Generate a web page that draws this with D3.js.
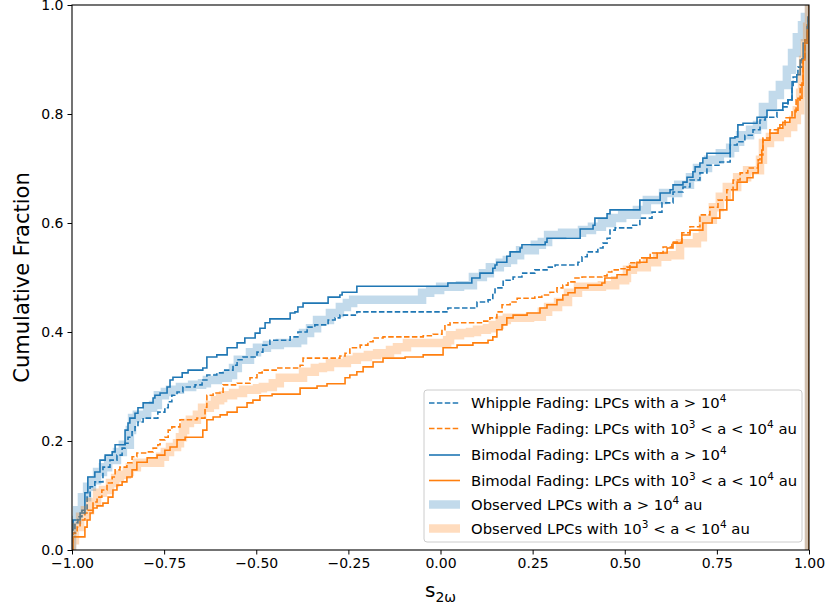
<!DOCTYPE html>
<html><head><meta charset="utf-8">
<script src="https://cdn.jsdelivr.net/npm/d3@7"></script>
<style>body{margin:0;background:#fff}svg{font-family:"DejaVu Sans",sans-serif}</style>
</head><body><svg id="c" width="827" height="607"></svg>
<script>
const xTicks=[-1,-0.75,-0.5,-0.25,0,0.25,0.5,0.75,1];
const yTicks=[0,0.2,0.4,0.6,0.8,1.0];
const xLabel="s";
const xLabelSub="2ω";
const yLabel="Cumulative Fraction";

// Whipple fading, a > 1e4 (dashed blue)
const whippleHigh=[[-1,0],[-1,0.031],[-0.992,0.050],[-0.984,0.061],[-0.973,0.073],[-0.959,0.097],[-0.951,0.116],[-0.938,0.125],[-0.916,0.152],[-0.897,0.165],[-0.878,0.174],[-0.864,0.187],[-0.856,0.196],[-0.848,0.207],[-0.837,0.217],[-0.829,0.226],[-0.821,0.235],[-0.807,0.242],[-0.767,0.253],[-0.748,0.261],[-0.739,0.272],[-0.729,0.284],[-0.715,0.290],[-0.699,0.299],[-0.666,0.303],[-0.647,0.312],[-0.634,0.321],[-0.607,0.325],[-0.590,0.330],[-0.563,0.339],[-0.552,0.349],[-0.536,0.354],[-0.498,0.363],[-0.482,0.376],[-0.463,0.385],[-0.408,0.391],[-0.387,0.400],[-0.362,0.409],[-0.341,0.413],[-0.305,0.422],[-0.286,0.426],[-0.273,0.431],[-0.227,0.437],[0.020,0.444],[0.099,0.455],[0.129,0.459],[0.142,0.472],[0.148,0.481],[0.170,0.495],[0.197,0.501],[0.221,0.508],[0.256,0.514],[0.289,0.519],[0.311,0.523],[0.373,0.528],[0.384,0.538],[0.398,0.547],[0.427,0.554],[0.441,0.563],[0.452,0.572],[0.460,0.587],[0.474,0.591],[0.522,0.596],[0.541,0.609],[0.574,0.620],[0.601,0.637],[0.631,0.657],[0.658,0.666],[0.677,0.679],[0.704,0.692],[0.723,0.706],[0.758,0.712],[0.786,0.743],[0.805,0.749],[0.826,0.761],[0.848,0.771],[0.867,0.789],[0.881,0.794],[0.913,0.807],[0.929,0.813],[0.943,0.826],[0.954,0.850],[0.957,0.868],[0.970,0.886],[0.981,0.905],[0.989,0.936],[0.997,0.972],[1,1],[1,0]];

// Whipple fading, 1e3 < a < 1e4 (dashed orange)
const whippleLow=[[-1,0],[-0.997,0.031],[-0.986,0.042],[-0.978,0.055],[-0.965,0.068],[-0.957,0.073],[-0.943,0.088],[-0.932,0.097],[-0.919,0.110],[-0.905,0.123],[-0.891,0.134],[-0.883,0.147],[-0.870,0.152],[-0.851,0.160],[-0.837,0.171],[-0.824,0.178],[-0.796,0.180],[-0.780,0.187],[-0.767,0.193],[-0.761,0.202],[-0.748,0.207],[-0.739,0.220],[-0.729,0.226],[-0.707,0.239],[-0.661,0.242],[-0.639,0.262],[-0.634,0.284],[-0.617,0.288],[-0.590,0.303],[-0.552,0.306],[-0.517,0.316],[-0.498,0.325],[-0.484,0.330],[-0.444,0.334],[-0.381,0.339],[-0.373,0.352],[-0.273,0.356],[-0.259,0.361],[-0.246,0.371],[-0.218,0.376],[-0.197,0.382],[-0.183,0.389],[-0.156,0.391],[-0.047,0.393],[-0.020,0.396],[0.004,0.404],[0.012,0.413],[0.026,0.417],[0.115,0.420],[0.134,0.426],[0.153,0.437],[0.167,0.450],[0.189,0.455],[0.208,0.462],[0.256,0.464],[0.275,0.468],[0.297,0.473],[0.316,0.481],[0.332,0.486],[0.346,0.492],[0.365,0.499],[0.384,0.501],[0.438,0.503],[0.452,0.510],[0.465,0.514],[0.487,0.516],[0.506,0.519],[0.514,0.527],[0.541,0.536],[0.569,0.545],[0.604,0.556],[0.628,0.565],[0.655,0.582],[0.677,0.593],[0.704,0.615],[0.731,0.629],[0.753,0.642],[0.777,0.661],[0.794,0.679],[0.813,0.692],[0.834,0.701],[0.862,0.716],[0.867,0.725],[0.875,0.756],[0.894,0.771],[0.921,0.780],[0.935,0.793],[0.954,0.804],[0.965,0.826],[0.976,0.853],[0.984,0.899],[0.989,0.936],[0.995,0.963],[1,1],[1,0]];

// Bimodal fading, a > 1e4 (solid blue)
const bimodalHigh=[[-1,0],[-1,0.037],[-0.997,0.055],[-0.978,0.068],[-0.965,0.105],[-0.957,0.134],[-0.938,0.143],[-0.924,0.165],[-0.910,0.174],[-0.891,0.180],[-0.883,0.193],[-0.856,0.220],[-0.848,0.233],[-0.843,0.242],[-0.829,0.251],[-0.821,0.261],[-0.807,0.270],[-0.780,0.279],[-0.775,0.284],[-0.761,0.288],[-0.742,0.299],[-0.734,0.312],[-0.726,0.317],[-0.701,0.325],[-0.685,0.330],[-0.645,0.334],[-0.634,0.354],[-0.607,0.358],[-0.579,0.371],[-0.552,0.380],[-0.531,0.389],[-0.503,0.398],[-0.490,0.407],[-0.476,0.417],[-0.463,0.424],[-0.408,0.435],[-0.395,0.437],[-0.387,0.446],[-0.373,0.453],[-0.305,0.464],[-0.273,0.468],[-0.267,0.473],[-0.227,0.484],[0.020,0.490],[0.085,0.499],[0.107,0.508],[0.142,0.517],[0.148,0.523],[0.153,0.528],[0.180,0.539],[0.189,0.547],[0.216,0.554],[0.221,0.560],[0.284,0.565],[0.289,0.572],[0.379,0.589],[0.414,0.596],[0.419,0.609],[0.452,0.617],[0.460,0.624],[0.541,0.642],[0.596,0.655],[0.623,0.661],[0.631,0.670],[0.658,0.675],[0.669,0.684],[0.685,0.694],[0.691,0.703],[0.704,0.710],[0.712,0.719],[0.723,0.728],[0.786,0.756],[0.799,0.758],[0.807,0.780],[0.821,0.783],[0.859,0.794],[0.886,0.807],[0.929,0.820],[0.943,0.826],[0.954,0.859],[0.967,0.872],[0.976,0.899],[0.984,0.930],[0.995,0.960],[0.997,0.978],[1,1],[1,0]];

// Bimodal fading, 1e3 < a < 1e4 (solid orange)
const bimodalLow=[[-1,0],[-0.997,0.024],[-0.965,0.042],[-0.959,0.055],[-0.951,0.068],[-0.943,0.077],[-0.932,0.081],[-0.916,0.086],[-0.902,0.097],[-0.889,0.110],[-0.878,0.119],[-0.864,0.125],[-0.851,0.134],[-0.837,0.147],[-0.824,0.161],[-0.796,0.169],[-0.769,0.174],[-0.748,0.183],[-0.734,0.189],[-0.715,0.202],[-0.693,0.207],[-0.645,0.220],[-0.634,0.239],[-0.617,0.244],[-0.598,0.248],[-0.579,0.253],[-0.552,0.262],[-0.525,0.270],[-0.509,0.275],[-0.490,0.283],[-0.457,0.286],[-0.381,0.297],[-0.335,0.301],[-0.308,0.305],[-0.259,0.316],[-0.246,0.321],[-0.227,0.327],[-0.210,0.336],[-0.183,0.345],[-0.156,0.352],[-0.096,0.354],[-0.047,0.358],[0.007,0.371],[0.045,0.376],[0.088,0.380],[0.129,0.385],[0.142,0.391],[0.153,0.404],[0.167,0.413],[0.180,0.426],[0.197,0.431],[0.235,0.435],[0.270,0.444],[0.289,0.450],[0.316,0.459],[0.332,0.468],[0.346,0.472],[0.365,0.481],[0.400,0.486],[0.438,0.490],[0.446,0.499],[0.479,0.505],[0.506,0.514],[0.514,0.519],[0.533,0.528],[0.560,0.536],[0.588,0.545],[0.615,0.554],[0.631,0.563],[0.655,0.578],[0.677,0.587],[0.712,0.600],[0.737,0.609],[0.758,0.624],[0.777,0.642],[0.794,0.661],[0.805,0.675],[0.832,0.683],[0.848,0.692],[0.862,0.710],[0.872,0.734],[0.875,0.752],[0.894,0.765],[0.916,0.774],[0.929,0.785],[0.948,0.793],[0.962,0.807],[0.970,0.829],[0.981,0.857],[0.984,0.899],[0.989,0.930],[0.995,0.954],[1,1],[1,0]];

// Observed LPCs, a > 1e4 (thick translucent blue)
const observedHigh=[[-1,0],[-1,0.055],[-0.986,0.073],[-0.973,0.097],[-0.959,0.116],[-0.946,0.128],[-0.932,0.143],[-0.916,0.152],[-0.902,0.165],[-0.878,0.180],[-0.862,0.193],[-0.843,0.220],[-0.837,0.242],[-0.824,0.248],[-0.796,0.261],[-0.780,0.266],[-0.767,0.284],[-0.748,0.290],[-0.734,0.294],[-0.707,0.299],[-0.674,0.303],[-0.647,0.306],[-0.634,0.312],[-0.604,0.316],[-0.577,0.321],[-0.563,0.334],[-0.550,0.349],[-0.517,0.363],[-0.498,0.371],[-0.471,0.376],[-0.436,0.380],[-0.389,0.385],[-0.373,0.398],[-0.354,0.407],[-0.335,0.422],[-0.300,0.435],[-0.273,0.446],[-0.254,0.453],[-0.237,0.459],[-0.050,0.472],[-0.028,0.477],[-0.001,0.483],[0.053,0.486],[0.088,0.501],[0.115,0.508],[0.134,0.519],[0.161,0.527],[0.180,0.532],[0.197,0.541],[0.216,0.550],[0.256,0.560],[0.275,0.565],[0.292,0.578],[0.330,0.582],[0.384,0.587],[0.411,0.593],[0.438,0.600],[0.465,0.609],[0.493,0.615],[0.533,0.624],[0.560,0.642],[0.604,0.655],[0.645,0.670],[0.677,0.684],[0.696,0.701],[0.726,0.716],[0.758,0.728],[0.786,0.738],[0.799,0.749],[0.813,0.761],[0.840,0.771],[0.859,0.780],[0.875,0.813],[0.902,0.835],[0.921,0.853],[0.940,0.881],[0.954,0.912],[0.967,0.941],[0.981,0.963],[0.989,0.978],[1,1],[1,0]];

// Observed LPCs, 1e3 < a < 1e4 (thick translucent orange)
const observedLow=[[-1,0],[-1,0.018],[-0.992,0.042],[-0.978,0.061],[-0.965,0.073],[-0.951,0.088],[-0.932,0.105],[-0.916,0.110],[-0.897,0.123],[-0.883,0.132],[-0.870,0.138],[-0.851,0.143],[-0.843,0.152],[-0.824,0.160],[-0.761,0.171],[-0.748,0.180],[-0.734,0.189],[-0.715,0.196],[-0.707,0.207],[-0.699,0.220],[-0.693,0.233],[-0.680,0.239],[-0.661,0.248],[-0.647,0.261],[-0.626,0.266],[-0.612,0.275],[-0.598,0.279],[-0.590,0.284],[-0.563,0.288],[-0.536,0.294],[-0.498,0.297],[-0.482,0.299],[-0.455,0.306],[-0.436,0.316],[-0.373,0.327],[-0.341,0.334],[-0.319,0.336],[-0.300,0.343],[-0.254,0.349],[-0.227,0.354],[-0.197,0.358],[-0.172,0.361],[-0.137,0.367],[-0.118,0.372],[-0.091,0.380],[0.018,0.385],[0.026,0.394],[0.053,0.398],[0.080,0.400],[0.099,0.404],[0.126,0.407],[0.142,0.413],[0.161,0.422],[0.180,0.426],[0.243,0.428],[0.275,0.437],[0.292,0.446],[0.319,0.455],[0.346,0.472],[0.373,0.483],[0.438,0.486],[0.474,0.495],[0.501,0.499],[0.506,0.514],[0.522,0.519],[0.560,0.528],[0.588,0.538],[0.615,0.541],[0.650,0.563],[0.696,0.574],[0.712,0.606],[0.739,0.629],[0.758,0.648],[0.777,0.666],[0.805,0.684],[0.832,0.697],[0.867,0.716],[0.875,0.747],[0.894,0.758],[0.921,0.765],[0.940,0.776],[0.957,0.789],[0.967,0.807],[0.976,0.839],[0.981,0.868],[0.984,0.899],[0.989,0.930],[0.995,0.960],[1,1],[1,0]];

const seriesLabels=[
 "Whipple Fading: LPCs with a > 10^{4}",
 "Whipple Fading: LPCs with 10^{3} < a < 10^{4} au",
 "Bimodal Fading: LPCs with a > 10^{4}",
 "Bimodal Fading: LPCs with 10^{3} < a < 10^{4} au",
 "Observed LPCs with a > 10^{4} au",
 "Observed LPCs with 10^{3} < a < 10^{4} au"
];
const seriesData=[whippleHigh,whippleLow,bimodalHigh,bimodalLow,observedHigh,observedLow];
const seriesColors=["#1f77b4","#ff7f0e","#1f77b4","#ff7f0e","#1f77b4","#ff7f0e"];
const seriesKind=["dashed","dashed","solid","solid","band","band"];

const W=827,H=607,m={l:72,r:18,t:5,b:57};
const svg=d3.select("#c");
const x=d3.scaleLinear().domain([-1,1]).range([m.l,W-m.r]);
const y=d3.scaleLinear().domain([0,1]).range([H-m.b,m.t]);

svg.append("defs").append("clipPath").attr("id","clip").append("rect")
  .attr("x",m.l).attr("y",m.t).attr("width",W-m.r-m.l).attr("height",H-m.b-m.t);

const line=d3.line().x(d=>x(d[0])).y(d=>y(d[1])).curve(d3.curveStepAfter);
const plot=svg.append("g").attr("clip-path","url(#clip)");

function styleFor(i,sel){
  const k=seriesKind[i];
  sel.attr("fill","none").attr("stroke",seriesColors[i]);
  if(k==="band") sel.attr("stroke-width",8.5).attr("stroke-opacity",0.27).attr("stroke-linejoin","miter");
  else sel.attr("stroke-width",1.6);
  if(k==="dashed") sel.attr("stroke-dasharray","5.5,2.4");
  return sel;
}
seriesData.forEach((d,i)=>{
  styleFor(i,plot.append("path").attr("d",line(d)));
});

// axes
const xa=svg.append("g").attr("transform",`translate(0,${H-m.b})`)
  .call(d3.axisBottom(x).tickValues(xTicks).tickFormat(d3.format(".2f")).tickSize(4.5).tickPadding(4));
const ya=svg.append("g").attr("transform",`translate(${m.l},0)`)
  .call(d3.axisLeft(y).tickValues(yTicks).tickFormat(d3.format(".1f")).tickSize(4.5).tickPadding(4));
[xa,ya].forEach(a=>{a.select(".domain").remove();a.selectAll("text").attr("font-size",14).attr("font-family","DejaVu Sans").attr("fill","#000");a.selectAll("line").attr("stroke","#000").attr("stroke-width",1);});
svg.append("rect").attr("x",m.l).attr("y",m.t).attr("width",W-m.r-m.l).attr("height",H-m.b-m.t)
  .attr("fill","none").attr("stroke","#000").attr("stroke-width",1.1);

// labels
const xl=svg.append("text").attr("x",(m.l+W-m.r)/2).attr("y",597).attr("text-anchor","middle").attr("font-size",20);
xl.append("tspan").text(xLabel);
xl.append("tspan").attr("font-size",14).attr("dy",5).text(xLabelSub);
svg.append("text").attr("transform",`translate(29,${(m.t+H-m.b)/2}) rotate(-90)`).attr("text-anchor","middle").attr("font-size",21).text(yLabel);

// legend
const lg=svg.append("g");
lg.append("rect").attr("x",424).attr("y",390).attr("width",378).attr("height",152).attr("rx",3)
  .attr("fill","#fff").attr("fill-opacity",0.8).attr("stroke","#cccccc").attr("stroke-width",1);
const rowY=[403,428.5,455,480.5,504.5,528.5];
seriesLabels.forEach((lab,i)=>{
  const yy=rowY[i];
  styleFor(i,lg.append("path").attr("d",`M429,${yy}L460,${yy}`));
  const t=lg.append("text").attr("x",471).attr("y",yy+5).attr("font-size",14.8);
  const parts=lab.split(/\^\{(.*?)\}/);
  parts.forEach((p,j)=>{
    if(p==="") return;
    if(j%2===1) t.append("tspan").attr("font-size",10.5).attr("dy",-6).text(p);
    else t.append("tspan").attr("dy",j>0?6:0).text(p);
  });
});
</script></body></html>
